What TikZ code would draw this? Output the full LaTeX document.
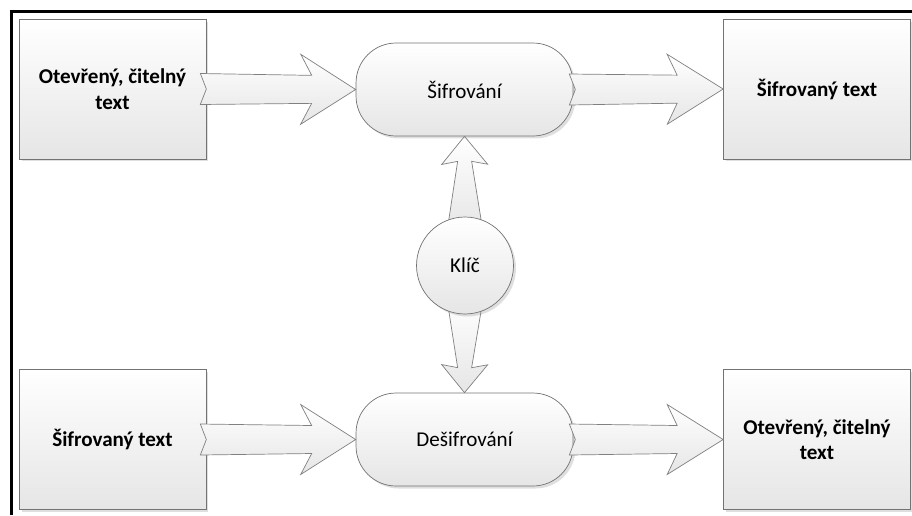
\documentclass[tikz,border=0pt]{standalone}
\usepackage{fontspec}
\setmainfont{Carlito}
\usetikzlibrary{calc,shadows,backgrounds}

% block arrow: from, to, tail half width, neck half width, head half width, neck length, barb length
\newcommand{\blockarr}[7]{%
  \coordinate (ba-s) at (#1);
  \coordinate (ba-t) at (#2);
  \coordinate (ba-n) at ($(ba-t)!#6*0.02cm!(ba-s)$);
  \coordinate (ba-b) at ($(ba-t)!#7*0.02cm!(ba-s)$);
  \draw[blockarrow] ($(ba-s)!#3*0.02cm!90:(ba-t)$) -- ($(ba-n)!#4*0.02cm!90:(ba-t)$)
    -- ($(ba-b)!#5*0.02cm!90:(ba-t)$) -- (ba-t) -- ($(ba-b)!#5*0.02cm!-90:(ba-t)$)
    -- ($(ba-n)!#4*0.02cm!-90:(ba-t)$) -- ($(ba-s)!#3*0.02cm!-90:(ba-t)$)
    -- ($(ba-s)!6*0.02cm!(ba-t)$) -- cycle;
}

\begin{document}
\begin{tikzpicture}[x=0.02cm,y=-0.02cm,
    textbox/.style={draw=black!55, top color=white, bottom color=black!10,
      minimum width=3.74cm, minimum height=2.8cm, align=center,
      font=\fontsize{12}{14.5}\selectfont\bfseries,
      drop shadow={shadow xshift=0.05cm, shadow yshift=-0.05cm, opacity=0.25}},
    process/.style={draw=black!55, top color=white, bottom color=black!10,
      minimum width=4.34cm, minimum height=1.86cm, rounded corners=0.8cm,
      font=\fontsize{12}{14.5}\selectfont,
      drop shadow={shadow xshift=0.05cm, shadow yshift=-0.05cm, opacity=0.25}},
    keynode/.style={draw=black!55, circle, top color=white, bottom color=black!10,
      minimum size=1.94cm, inner sep=0pt, font=\fontsize{12}{14.5}\selectfont,
      drop shadow={shadow xshift=0.05cm, shadow yshift=-0.05cm, opacity=0.25}},
    blockarrow/.style={draw=black!50, top color=white, bottom color=black!10, line join=miter}]
  \useasboundingbox (0,0) rectangle (912,515);
  \draw[line width=2pt] (11.5,515) -- (11.5,11.5) -- (912,11.5);

  \node[textbox] (plain1) at (112.5,89) {Otevřený, čitelný\\text};
  \node[textbox] (cipher1) at (817,89) {Šifrovaný text};
  \node[textbox] (cipher2) at (112.5,439.5) {Šifrovaný text};
  \node[textbox] (plain2) at (817,439.5) {Otevřený, čitelný\\text};
  \node[process] (enc) at (464.5,89.5) {Šifrování};
  \node[process] (dec) at (464.5,439.5) {Dešifrování};
  \node[keynode] (key) at (465,265.5) {Klíč};

  \blockarr{$(plain1.east)+(-6,0)$}{enc.west}{15.5}{14}{35}{44}{55}
  \blockarr{$(enc.east)+(-4,0)$}{cipher1.west}{15.5}{14}{35}{46}{56}
  \blockarr{$(cipher2.east)+(-6,0)$}{dec.west}{15.5}{14}{35}{44}{55}
  \blockarr{$(dec.east)+(-4,0)$}{plain2.west}{15.5}{14}{35}{46}{56}
  \begin{scope}[on background layer]
    \blockarr{$(key.north)+(0,15)$}{enc.south}{18}{7}{23}{25}{28}
    \blockarr{$(key.south)+(0,-15)$}{dec.north}{18}{7}{23}{25}{28}
  \end{scope}
\end{tikzpicture}
\end{document}
